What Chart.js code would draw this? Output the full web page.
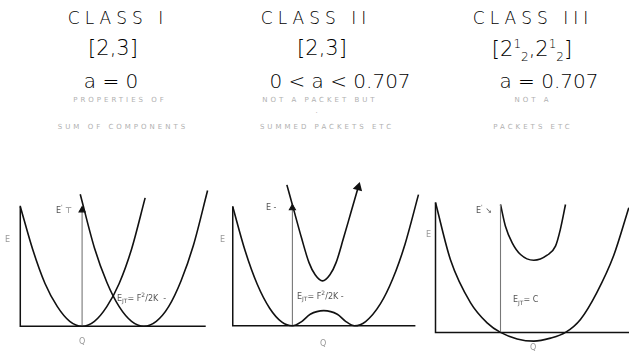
<!DOCTYPE html>
<html>
<head>
<meta charset="utf-8">
<script src="https://cdn.jsdelivr.net/npm/chart.js@4.4.1/dist/chart.umd.min.js"></script>
<style>
  body { margin:0; width:629px; height:351px; overflow:hidden; background:#fff; position:relative; font-family:'DejaVu Sans', sans-serif; color:#000; }
  .t { position:absolute; transform:translateX(-50%); white-space:nowrap; font-weight:200; line-height:1; }
  .cls { top:10px; font-size:17px; letter-spacing:5px; }
  .rep { top:38px; font-size:21px; }
  .rep sup, .rep sub { font-size:12px; }
  .a { top:71px; font-size:20px; }
  .note { font-size:7px; color:#b0b0b0; letter-spacing:3px; font-weight:400; }
  .lbl { position:absolute; font-size:8px; color:#555; white-space:nowrap; line-height:1; }
  canvas { position:absolute; }
</style>
</head>
<body>
<div class="t cls" style="left:118px">CLASS I</div>
<div class="t cls" style="left:316px">CLASS II</div>
<div class="t cls" style="left:533px">CLASS III</div>
<div class="t rep" style="left:113px">[2,3]</div>
<div class="t rep" style="left:322px">[2,3]</div>
<div class="t rep" style="left:532px">[2<sup>1</sup><sub>2</sub>,2<sup>1</sup><sub>2</sub>]</div>
<div class="t a" style="left:111px">a = 0</div>
<div class="t a" style="left:340px">0 &lt; a &lt; 0.707</div>
<div class="t a" style="left:549px">a = 0.707</div>

<div class="t note" style="left:120px;top:97px">PROPERTIES OF</div>
<div class="t note" style="left:123px;top:124px">SUM OF COMPONENTS</div>
<div class="t note" style="left:320px;top:97px">NOT A PACKET BUT</div>
<div class="t note" style="left:318px;top:108px">.</div>
<div class="t note" style="left:327px;top:124px">SUMMED PACKETS ETC</div>
<div class="t note" style="left:533px;top:97px">NOT A</div>
<div class="t note" style="left:533px;top:124px">PACKETS ETC</div>

<canvas id="p1"></canvas>
<canvas id="p2"></canvas>
<canvas id="p3"></canvas>

<div class="lbl" style="left:56px;top:204px">E<sup style="font-size:6px">'</sup> &#8868;</div>
<div class="lbl" style="left:117px;top:292px">E<sub style="font-size:6px">JT</sub>= F<sup style="font-size:6px">2</sup>/2K &nbsp;-</div>
<div class="lbl" style="left:266px;top:204px">E -</div>
<div class="lbl" style="left:297px;top:290px">E<sub style="font-size:6px">JT</sub>= F<sup style="font-size:6px">2</sup>/2K -</div>
<div class="lbl" style="left:476px;top:204px">E<sup style="font-size:6px">'</sup> &#8600;</div>
<div class="lbl" style="left:513px;top:296px">E<sub style="font-size:6px">JT</sub>= C</div>
<div class="lbl" style="left:5px;top:236px;color:#999">E</div>
<div class="lbl" style="left:220px;top:236px;color:#999">E</div>
<div class="lbl" style="left:426px;top:231px;color:#999">E</div>
<div class="lbl" style="left:79px;top:338px;color:#999">Q</div>
<div class="lbl" style="left:320px;top:340px;color:#999">Q</div>
<div class="lbl" style="left:530px;top:344px;color:#999">Q</div>

<script>
// Class I: two displaced parabolas crossing
const p1LeftX  = [0, 1, 2, 3, 4, 5, 6, 7, 8, 9, 10.1];
const p1LeftY  = [9.8, 6.3, 3.5, 1.6, 0.4, 0, 0.4, 1.6, 3.5, 6.3, 10.5];
const p1RightX = [4.85, 6, 7, 8, 9, 10, 11, 12, 13, 14, 15.15];
const p1RightY = [10.8, 6.4, 3.6, 1.6, 0.4, 0, 0.4, 1.6, 3.7, 6.6, 11.1];
const p1Arrow  = [5, 9.5];

// Class II: double well below, single well above
const p2LowX = [0, 1, 2, 3, 4, 4.85, 5.6, 6.3, 7.4, 8.5, 9.2, 9.9, 10.8, 12, 13, 14, 15.1];
const p2LowY = [9.8, 6.2, 3.4, 1.45, 0.3, 0, 0.35, 0.95, 1.25, 0.95, 0.35, 0, 0.35, 1.8, 3.85, 6.7, 10.8];
const p2UpX  = [4.4, 5, 5.6, 6.2, 6.7, 7.3, 7.9, 8.4, 9, 9.6, 10.2];
const p2UpY  = [11.6, 9.4, 7.2, 5.2, 4.2, 3.7, 4.2, 5.2, 7.2, 9.3, 11.4];
const p2Arrow = [4.85, 9.7];

// Class III: wide lower well dipping below zero, narrow upper well
const p3LowX = [0, 1.15, 2.7, 3.97, 5, 6.28, 7.56, 8.85, 10, 11.15, 12.4, 13.7, 14.87];
const p3LowY = [10, 5.6, 2.28, 0.74, 0, -0.5, -0.67, -0.44, 0, 1.0, 3.05, 5.9, 9.6];
const p3UpX  = [5, 5.38, 5.9, 6.54, 7.56, 8.59, 9.23, 9.6, 10];
const p3UpY  = [9.85, 8.18, 6.9, 6.0, 5.56, 5.95, 6.64, 7.92, 9.85];
const p3Mark = [5, 9.85];

// axis extents per panel: [vertical axis top, baseline end]
const axes1 = [9.85, 15];
const axes2 = [9.85, 14.85];
const axes3 = [10, 14.9];

const UNIT = 13;
const XR = [-0.5, 15.5];
const YR = [-1.2, 12.2];

const zip = (xs, ys) => xs.map((x, i) => ({ x, y: ys[i] }));

function curve(xs, ys, extra) {
  return Object.assign({
    data: zip(xs, ys),
    borderColor: '#111',
    borderWidth: 1.6,
    pointRadius: 0,
    cubicInterpolationMode: 'monotone',
    fill: false,
    clip: false,
  }, extra || {});
}

function axisSets(ax) {
  return [
    { data: [{ x: 0, y: ax[0] }, { x: 0, y: 0 }, { x: ax[1], y: 0 }],
      borderColor: '#111', borderWidth: 1.5, pointRadius: 0, fill: false, clip: false },
  ];
}

function arrowSet(a, head) {
  return {
    data: [{ x: a[0], y: 0 }, { x: a[0], y: a[1] }],
    borderColor: '#777', borderWidth: 1.1,
    pointRadius: [0, head ? 3.5 : 0], pointStyle: 'triangle',
    pointBackgroundColor: '#111', pointBorderColor: '#111',
    fill: false, clip: false,
  };
}

function makePanel(id, ox, oy, datasets) {
  const cv = document.getElementById(id);
  const w = (XR[1] - XR[0]) * UNIT;
  const h = (YR[1] - YR[0]) * UNIT;
  cv.width = w;
  cv.height = h;
  cv.style.left = (ox + XR[0] * UNIT) + 'px';
  cv.style.top = (oy - YR[1] * UNIT) + 'px';
  new Chart(cv, {
    type: 'line',
    data: { datasets },
    options: {
      responsive: false,
      animation: false,
      events: [],
      layout: { padding: 0 },
      plugins: { legend: { display: false }, tooltip: { enabled: false } },
      scales: {
        x: { type: 'linear', display: false, min: XR[0], max: XR[1] },
        y: { type: 'linear', display: false, min: YR[0], max: YR[1] },
      },
    },
  });
}

makePanel('p1', 15, 331, [
  ...axisSets(axes1),
  arrowSet(p1Arrow, true),
  curve(p1LeftX, p1LeftY),
  curve(p1RightX, p1RightY),
]);

makePanel('p2', 227, 331, [
  ...axisSets(axes2),
  arrowSet(p2Arrow, true),
  curve(p2LowX, p2LowY),
  curve(p2UpX, p2UpY, {
    pointRadius: p2UpX.map((_, i) => i === p2UpX.length - 1 ? 4 : 0),
    pointStyle: 'triangle', pointRotation: 16,
    pointBackgroundColor: '#111', pointBorderColor: '#111',
  }),
]);

makePanel('p3', 435, 333, [
  ...axisSets(axes3),
  arrowSet(p3Mark, false),
  curve(p3LowX, p3LowY),
  curve(p3UpX, p3UpY),
]);
</script>
</body>
</html>
